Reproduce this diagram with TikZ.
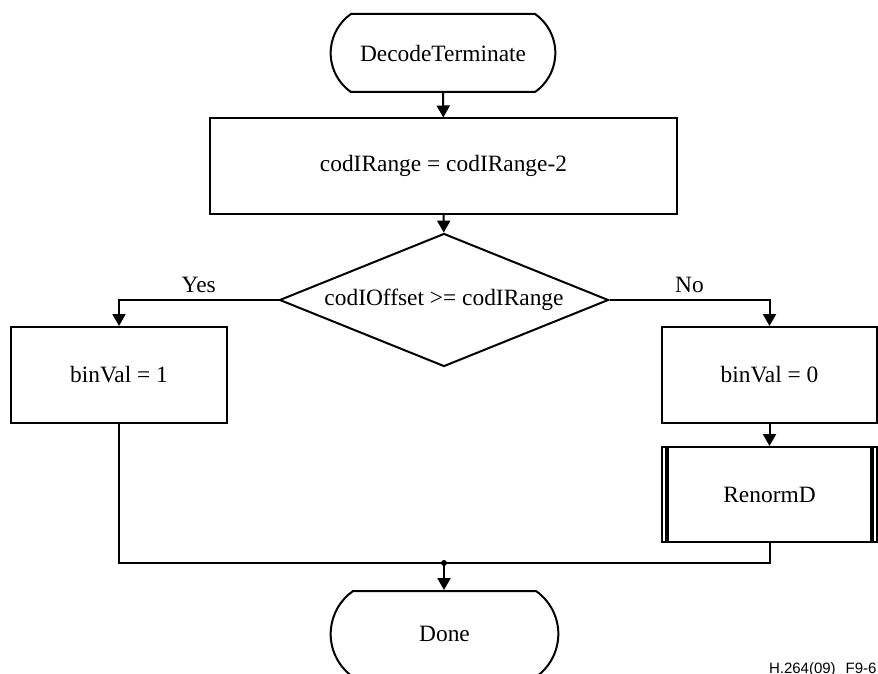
\documentclass[tikz,border=0pt]{standalone}
\usepackage{fontspec}
\setmainfont{Liberation Serif}
\setsansfont{Liberation Sans}
\usetikzlibrary{arrows.meta,shapes.geometric,shapes.misc}

\begin{document}
\begin{tikzpicture}[x=0.5pt, y=-0.5pt, line width=1pt,
    every node/.style={font=\fontsize{11.7}{14}\selectfont},
    term/.style={rounded rectangle, rounded rectangle arc length=110, draw=black, minimum width=119pt, minimum height=39pt},
    proc/.style={rectangle, draw=black, minimum width=108pt, minimum height=48pt},
    decision/.style={diamond, draw=black, inner sep=0pt, shape aspect=2.47, minimum width=164.5pt, minimum height=66.5pt},
    flow/.style={-{Triangle[length=6pt,width=6.5pt]}}]
    \useasboundingbox (0,0) rectangle (878,674);
    \node[term] (start) at (443,53) {DecodeTerminate};
    \node[proc, minimum width=233.5pt, minimum height=47.5pt] (range) at (443.5,166) {codIRange = codIRange-2};
    \node[decision] (test) at (444,300) {codIOffset >= codIRange};
    \node[proc] (one) at (119,375) {binVal = 1};
    \node[proc, minimum width=107.5pt] (zero) at (769.5,375) {binVal = 0};
    \node[proc, minimum width=107.5pt, minimum height=47.5pt] (renorm) at (769.5,494.5) {RenormD};
    \draw[line width=2pt] ([xshift=3pt]renorm.north west) -- ([xshift=3pt]renorm.south west);
    \draw[line width=2pt] ([xshift=-3pt]renorm.north east) -- ([xshift=-3pt]renorm.south east);
    \node[term, minimum width=120.5pt, minimum height=43pt] (done) at (444.5,634) {Done};
    \coordinate (join) at (444,563);
    \draw[flow] (start) -- (range);
    \draw[flow] (range) -- (test);
    \draw[flow] (test.west) -| node[pos=0.25, above] {Yes} (one.north);
    \draw[flow] (test.east) -| node[pos=0.25, above] {No} (zero.north);
    \draw[flow] (zero) -- (renorm);
    \draw (one.south) |- (join);
    \draw (renorm.south) |- (join);
    \fill (join) circle (1.5pt);
    \draw[flow] (join) -- (join |- done.north);
    \node[font=\sffamily\fontsize{7.5}{9}\selectfont, anchor=base west, inner sep=0pt] (figno) at (768,673) {H.264(09)\hspace{5pt}F9-6};
\end{tikzpicture}
\end{document}
